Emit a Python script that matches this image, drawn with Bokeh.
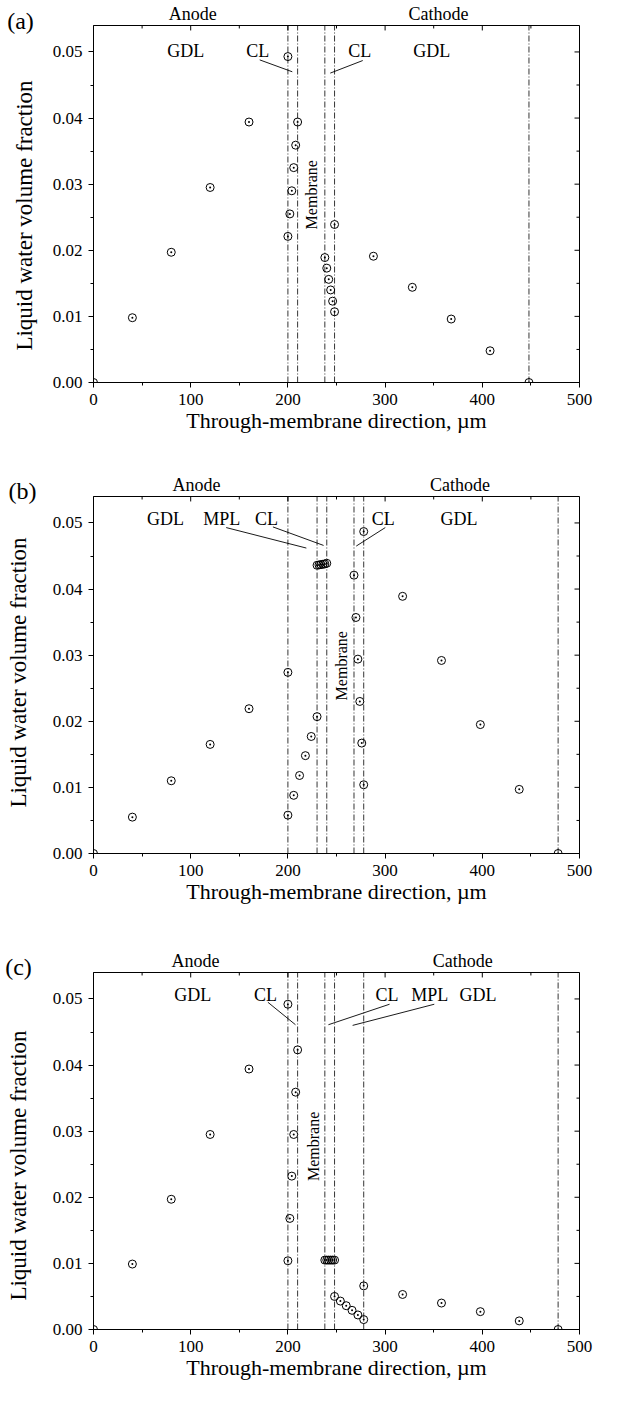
import math
from bokeh.plotting import figure
from bokeh.layouts import column, row
from bokeh.models import (Range1d, SingleIntervalTicker, FixedTicker, PrintfTickFormatter,
                          Label, LinearAxis)
from bokeh.core.properties import value
from bokeh.embed import file_html
from bokeh.resources import INLINE

FONT = "Liberation Serif"

# ---------------- data ----------------
# Panel (a): GDL | CL | membrane | CL | GDL
x_a = [0, 40, 80, 120, 160, 200,
       200, 202, 204, 206, 208, 210,
       238, 240, 242, 244, 246, 248,
       248, 288, 328, 368, 408, 448]
y_a = [0.0, 0.0098, 0.0197, 0.0295, 0.0394, 0.0493,
       0.0221, 0.0255, 0.0290, 0.0325, 0.0359, 0.0394,
       0.0189, 0.0173, 0.0156, 0.0140, 0.0123, 0.0107,
       0.0239, 0.0191, 0.0144, 0.0096, 0.0048, 0.0]
bounds_a = [200, 210, 238, 248, 448]

# Panel (b): GDL | MPL | CL | membrane | CL | GDL
x_b = [0, 40, 80, 120, 160, 200,
       200, 206, 212, 218, 224, 230,
       230, 232, 234, 236, 238, 240,
       268, 270, 272, 274, 276, 278,
       278, 318, 358, 398, 438, 478]
y_b = [0.0, 0.0055, 0.0110, 0.0165, 0.0219, 0.0274,
       0.0058, 0.0088, 0.0118, 0.0148, 0.0177, 0.0207,
       0.0436, 0.04365, 0.0437, 0.04375, 0.0438, 0.0439,
       0.0421, 0.0357, 0.0294, 0.0230, 0.0167, 0.0104,
       0.0487, 0.0389, 0.0292, 0.0195, 0.0097, 0.0]
bounds_b = [200, 230, 240, 268, 278, 478]

# Panel (c): GDL | CL | membrane | CL | MPL | GDL
x_c = [0, 40, 80, 120, 160, 200,
       200, 202, 204, 206, 208, 210,
       238, 240, 242, 244, 246, 248,
       248, 254, 260, 266, 272, 278,
       278, 318, 358, 398, 438, 478]
y_c = [0.0, 0.0099, 0.0197, 0.0295, 0.0394, 0.0492,
       0.0104, 0.0168, 0.0232, 0.0295, 0.0359, 0.0423,
       0.0105, 0.0105, 0.0105, 0.0105, 0.0105, 0.0105,
       0.0050, 0.0043, 0.0036, 0.0029, 0.0022, 0.0015,
       0.0066, 0.0053, 0.0040, 0.0027, 0.0013, 0.0]
bounds_c = [200, 210, 238, 248, 278, 478]

X_TICK = 100
Y_TICK = 0.01
X_MAX = 500
Y_MAX = 0.054
x_major = list(range(0, X_MAX + 1, X_TICK))
x_minor = [v + X_TICK / 2 for v in x_major[:-1]]
y_major = [round(i * Y_TICK, 3) for i in range(6)]
y_minor = [round(v + Y_TICK / 2, 4) for v in y_major[:-1]]

X_LABEL = "Through-membrane direction, µm"
Y_LABEL = "Liquid water volume fraction"

# ---------------- geometry ----------------
PAGE_W = 601
SIDE_W = 44          # strip on the left holding the panel tag and the y label
MAIN_W = PAGE_W - SIDE_W
B_LEFT, B_RIGHT = 49, 22
FRAME_W = MAIN_W - B_LEFT - B_RIGHT      # 486
FRAME_H = 360
B_TOP = 22
PX_X = FRAME_W / X_MAX
PX_Y = FRAME_H / Y_MAX


def blank(width, height, xr, yr):
    f = figure(width=width, height=height, x_range=xr, y_range=yr,
               output_backend="svg", toolbar_location=None,
               x_axis_type=None, y_axis_type=None,
               min_border=0, min_border_left=0, min_border_right=0,
               min_border_top=0, min_border_bottom=0)
    f.outline_line_color = None
    f.xgrid.visible = False
    f.ygrid.visible = False
    f.background_fill_color = "white"
    f.border_fill_color = "white"
    return f


def lbl(p, x, y, text, size="18px", angle=0.0):
    p.add_layout(Label(x=x, y=y, text=text, text_font=FONT, text_font_size=size,
                       text_align="center", text_baseline="middle", angle=angle,
                       text_color="black"))


def make_panel(xs, ys, bounds, tag, height, texts, leaders, memb, anode_x, cathode_x,
               tag_pos, ylab_pos):
    bottom = height - B_TOP - FRAME_H

    # ---- left strip: tag + y-axis title ----
    side = blank(SIDE_W, height, Range1d(0, SIDE_W), Range1d(0, height))
    side.text(x=[tag_pos[0]], y=[height - tag_pos[1]], text=[tag],
              text_font=value(FONT), text_font_size=value("24px"),
              text_align="center", text_baseline="middle", text_color="black")
    side.text(x=[ylab_pos[0]], y=[height - ylab_pos[1]], text=[Y_LABEL],
              text_font=value(FONT), text_font_size=value("23px"),
              text_align="center", text_baseline="middle", angle=math.pi / 2,
              text_color="black")

    # ---- main plot ----
    p = figure(width=MAIN_W, height=height, x_range=Range1d(0, X_MAX), y_range=Range1d(0, Y_MAX),
               output_backend="svg", toolbar_location=None,
               min_border_left=B_LEFT, min_border_right=B_RIGHT, min_border_top=B_TOP,
               min_border_bottom=bottom)
    p.background_fill_color = "white"
    p.border_fill_color = "white"
    p.outline_line_color = "black"
    p.outline_line_width = 1
    p.xgrid.visible = False
    p.ygrid.visible = False

    p.xaxis.ticker = SingleIntervalTicker(interval=X_TICK, num_minor_ticks=2)
    p.yaxis.ticker = SingleIntervalTicker(interval=Y_TICK, num_minor_ticks=2)
    p.yaxis.formatter = PrintfTickFormatter(format="%.2f")
    p.xaxis.axis_label = X_LABEL
    for ax in (p.xaxis[0], p.yaxis[0]):
        ax.axis_label_text_font = FONT
        ax.axis_label_text_font_size = "22px"
        ax.axis_label_text_font_style = "normal"
        ax.axis_label_text_color = "black"
        ax.major_label_text_font = FONT
        ax.major_label_text_font_size = "17px"
        ax.major_label_text_color = "black"
        ax.axis_line_color = "black"
        ax.major_tick_line_color = "black"
        ax.minor_tick_line_color = "black"
        ax.major_tick_out = 5
        ax.major_tick_in = 0
        ax.minor_tick_out = 3
        ax.minor_tick_in = 0
    p.xaxis.major_label_standoff = 6
    p.xaxis.axis_label_standoff = 0
    p.yaxis.major_label_standoff = 6

    # electrode names as labels of an axis above the frame
    elec = LinearAxis(ticker=FixedTicker(ticks=[anode_x, cathode_x]),
                      major_label_overrides={anode_x: "Anode", cathode_x: "Cathode"},
                      axis_line_color=None, major_tick_line_color=None,
                      minor_tick_line_color=None, major_tick_in=0, major_tick_out=0,
                      minor_tick_in=0, minor_tick_out=0, major_label_standoff=2,
                      major_label_text_font=FONT, major_label_text_font_size="18px",
                      major_label_text_color="black")
    p.add_layout(elec, "above")

    # mirror ticks (inward) on top and right edges
    tmaj = 5 / PX_Y
    tmin = 3 / PX_Y
    p.segment(x0=x_major, y0=[Y_MAX] * len(x_major), x1=x_major, y1=[Y_MAX - tmaj] * len(x_major),
              line_color="black", line_width=1)
    p.segment(x0=x_minor, y0=[Y_MAX] * len(x_minor), x1=x_minor, y1=[Y_MAX - tmin] * len(x_minor),
              line_color="black", line_width=1)
    rmaj = 5 / PX_X
    rmin = 3 / PX_X
    p.segment(x0=[X_MAX] * len(y_major), y0=y_major, x1=[X_MAX - rmaj] * len(y_major), y1=y_major,
              line_color="black", line_width=1)
    p.segment(x0=[X_MAX] * len(y_minor), y0=y_minor, x1=[X_MAX - rmin] * len(y_minor), y1=y_minor,
              line_color="black", line_width=1)

    # layer boundaries
    p.segment(x0=bounds, y0=[0] * len(bounds), x1=bounds, y1=[Y_MAX] * len(bounds),
              line_color="black", line_width=0.8, line_dash="6 2 1 2")

    # leader lines
    for (x0, y0, x1, y1) in leaders:
        p.segment(x0=[x0], y0=[y0], x1=[x1], y1=[y1], line_color="black", line_width=0.9)

    # data
    p.scatter(xs, ys, marker="circle_dot", size=8, fill_color=None,
              line_color="black", line_width=1)

    # texts inside the frame
    for (x, y, t) in texts:
        lbl(p, x, y, t)
    lbl(p, memb[0], memb[1], "Membrane", size="16px", angle=math.pi / 2)

    return row(side, column(p, spacing=0), spacing=0)


pa = make_panel(
    x_a, y_a, bounds_a, "(a)", 471,
    texts=[(95, 0.0501, "GDL"), (169, 0.0501, "CL"), (274, 0.0501, "CL"), (348, 0.0501, "GDL")],
    leaders=[(171, 0.0488, 204.5, 0.0470), (277, 0.0487, 243.6, 0.0468)],
    memb=(224.7, 0.0284), anode_x=102, cathode_x=355,
    tag_pos=(20, 20), ylab_pos=(24, 215))

pb = make_panel(
    x_b, y_b, bounds_b, "(b)", 476,
    texts=[(74, 0.0506, "GDL"), (132, 0.0506, "MPL"), (178, 0.0506, "CL"),
           (298, 0.0506, "CL"), (376, 0.0506, "GDL")],
    leaders=[(136.5, 0.0493, 219, 0.0462), (184.6, 0.0494, 236.7, 0.0466),
             (300.2, 0.0493, 270.3, 0.0465)],
    memb=(255, 0.0284), anode_x=106, cathode_x=377,
    tag_pos=(22, 19), ylab_pos=(18, 201))

pc = make_panel(
    x_c, y_c, bounds_c, "(c)", 438,
    texts=[(102, 0.0506, "GDL"), (177, 0.0506, "CL"), (302, 0.0506, "CL"),
           (346, 0.0506, "MPL"), (395.5, 0.0506, "GDL")],
    leaders=[(179.4, 0.0495, 207.8, 0.0461), (304.6, 0.0492, 241.7, 0.0461),
             (350.6, 0.0492, 266.6, 0.0460)],
    memb=(226, 0.0277), anode_x=105, cathode_x=380,
    tag_pos=(18, 19), ylab_pos=(18, 218))

layout = column(pa, pb, pc, spacing=0)
open("out.html", "w").write(file_html(layout, INLINE))
